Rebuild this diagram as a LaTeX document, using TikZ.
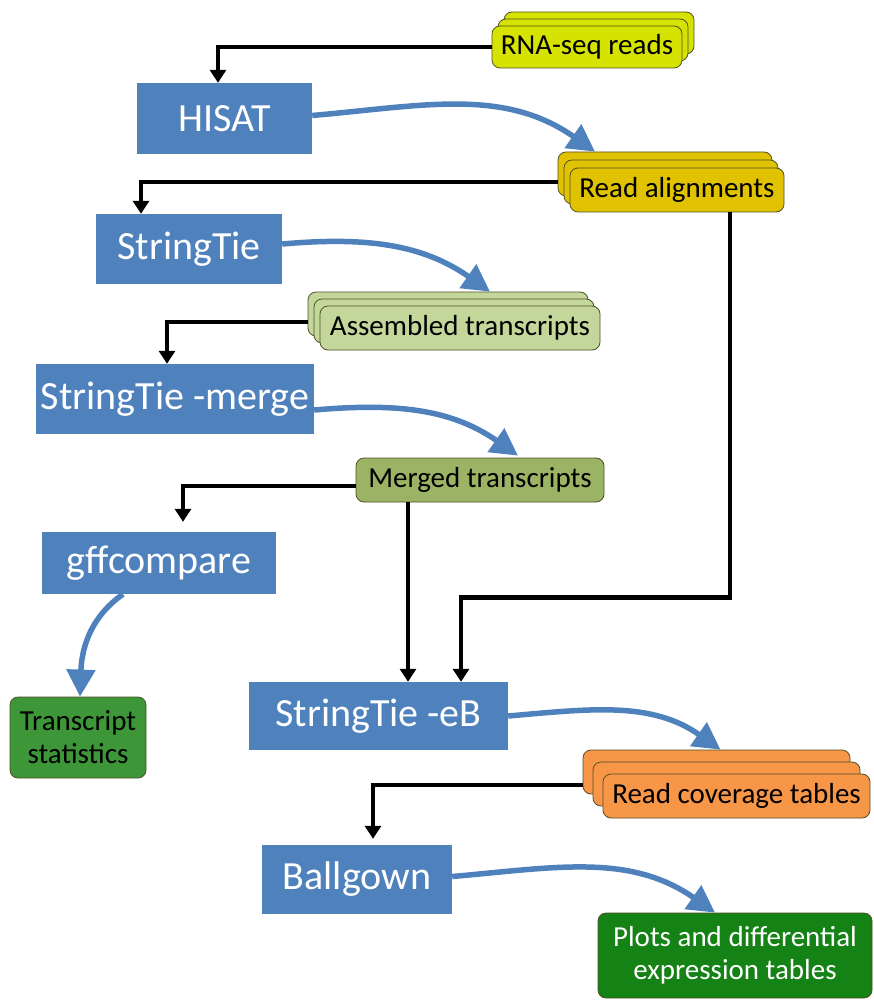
\documentclass[tikz,border=0pt]{standalone}
\usepackage{fontspec}
\setmainfont{Carlito}
\usetikzlibrary{arrows.meta,calc}
\definecolor{boxblue}{RGB}{79,129,189}
\definecolor{rnacol}{RGB}{214,226,0}
\definecolor{racol}{RGB}{224,194,0}
\definecolor{ascol}{RGB}{196,215,155}
\definecolor{mgcol}{RGB}{155,179,100}
\definecolor{tscol}{RGB}{61,150,56}
\definecolor{plcol}{RGB}{20,130,20}
\definecolor{cvcol}{RGB}{247,150,70}
\definecolor{edgecol}{RGB}{80,80,40}
\tikzset{
  bluebox/.style={fill=boxblue, draw=none, text=white, inner sep=0pt, font=\fontsize{40}{44}\selectfont},
  databox/.style={draw=edgecol, line width=0.8pt, rounded corners=8pt, inner sep=0pt, font=\fontsize{29}{33}\selectfont},
  blackarrow/.style={line width=4.2pt, -{Triangle[length=13pt,width=16pt]}},
  bluearrow/.style={boxblue, line width=5.5pt, -{Triangle[length=27pt,width=28pt]}}
}
\begin{document}
\begin{tikzpicture}[x=1pt,y=1pt]
\useasboundingbox (0,0) rectangle (873,-1000);
% blue process boxes
\node[bluebox, minimum width=175pt, minimum height=71pt] (hisat) at (224.5,-118.5) {HISAT};
\node[bluebox, minimum width=186pt, minimum height=70pt] (st) at (189,-249) {StringTie};
\node[bluebox, minimum width=278pt, minimum height=70pt] (merge) at (175,-399) {StringTie -merge};
\node[bluebox, minimum width=234pt, minimum height=62pt] (gff) at (159,-563) {gffcompare};
\node[bluebox, minimum width=259pt, minimum height=68pt] (eb) at (378.5,-716) {StringTie -eB};
\node[bluebox, minimum width=190pt, minimum height=69pt] (ball) at (357,-879.5) {Ballgown};
% RNA-seq reads stack
\node[databox, fill=rnacol, minimum width=190pt, minimum height=42pt] (rna3) at (599,-33) {};
\node[databox, fill=rnacol, minimum width=190pt, minimum height=42pt] (rna2) at (593,-40) {};
\node[databox, fill=rnacol, minimum width=190pt, minimum height=42pt] (rna1) at (587,-47) {RNA-seq reads};
% Read alignments stack
\node[databox, fill=racol, minimum width=214pt, minimum height=44pt] (ra3) at (665,-174) {};
\node[databox, fill=racol, minimum width=214pt, minimum height=44pt] (ra2) at (671,-182) {};
\node[databox, fill=racol, minimum width=214pt, minimum height=44pt] (ra1) at (677,-190) {Read alignments};
% Assembled transcripts stack
\node[databox, fill=ascol, minimum width=280pt, minimum height=44pt] (as3) at (448,-314) {};
\node[databox, fill=ascol, minimum width=280pt, minimum height=44pt] (as2) at (454,-321) {};
\node[databox, fill=ascol, minimum width=280pt, minimum height=44pt] (as1) at (460,-328) {Assembled transcripts};
% Merged transcripts
\node[databox, fill=mgcol, minimum width=248pt, minimum height=44pt] (mg) at (480,-480) {Merged transcripts};
% Read coverage tables stack
\node[databox, fill=cvcol, minimum width=267pt, minimum height=44pt] (cv3) at (716.5,-772) {};
\node[databox, fill=cvcol, minimum width=267pt, minimum height=44pt] (cv2) at (726.5,-784) {};
\node[databox, fill=cvcol, minimum width=267pt, minimum height=44pt] (cv1) at (736.5,-796) {Read coverage tables};
% results
\node[databox, fill=tscol, minimum width=136pt, minimum height=81pt, align=center] (ts) at (78,-737.5) {Transcript\\statistics};
\node[databox, fill=plcol, text=white, minimum width=274pt, minimum height=85pt, align=center] (pl) at (735,-955.5) {Plots and differential\\expression tables};
% black arrows
\draw[blackarrow] (rna1.west) -| ([xshift=-6.5pt]hisat.north);
\draw[blackarrow] ([yshift=-8pt]ra3.west) -| ([xshift=-48pt]st.north);
\draw[blackarrow] ([yshift=-8pt]as3.west) -| ([xshift=-8pt]merge.north);
\draw[blackarrow] ([yshift=-6pt]mg.west) -| ([xshift=24pt,yshift=10pt]gff.north);
\draw[blackarrow] ([xshift=-72pt]mg.south) -- ([xshift=-72pt]mg.south |- eb.north);
\draw[blackarrow] ([xshift=53pt]ra1.south) -- ++(0,-385) -| ([xshift=82.5pt]eb.north);
\draw[blackarrow] ([yshift=-13pt]cv3.west) -| ([xshift=16pt,yshift=6pt]ball.north);
% blue arrows
\draw[bluearrow] ([yshift=3pt]hisat.east) to[out=5,in=145] ([xshift=-70pt]ra3.north);
\draw[bluearrow] ([yshift=5pt]st.east) to[out=5,in=145] ([xshift=42pt]as3.north);
\draw[bluearrow] ([yshift=-11pt]merge.east) to[out=5,in=145] ([xshift=38pt,yshift=2pt]mg.north);
\draw[bluearrow] ([xshift=-36pt]gff.south) to[out=215,in=88] ([xshift=2pt]ts.north);
\draw[bluearrow] (eb.east) to[out=5,in=145] ([xshift=4pt]cv3.north);
\draw[bluearrow] ([yshift=3pt]ball.east) to[out=5,in=145] ([xshift=-20pt]pl.north);
\end{tikzpicture}
\end{document}
